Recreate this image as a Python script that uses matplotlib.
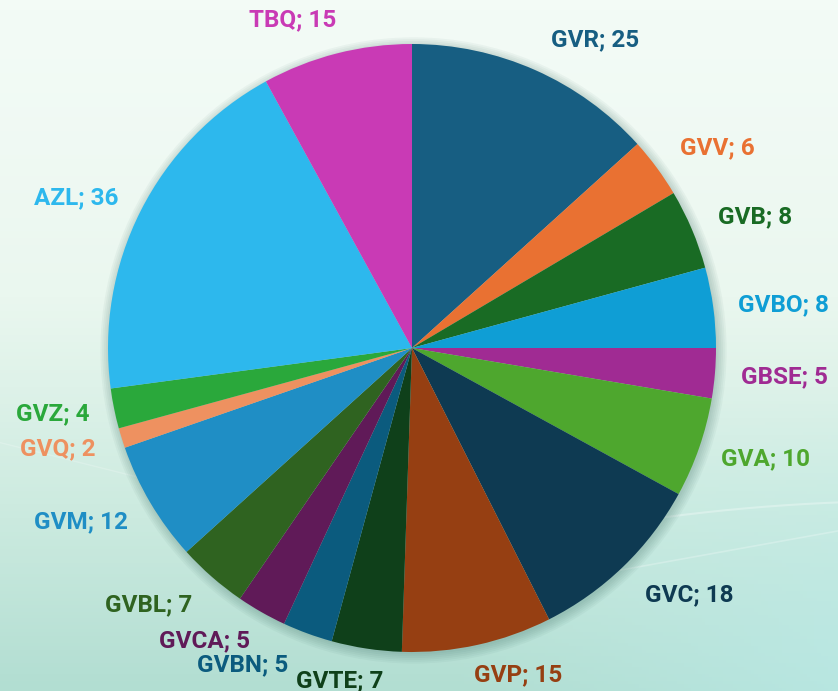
import numpy as np
import matplotlib
matplotlib.use('Agg')
import matplotlib.pyplot as plt
from matplotlib.colors import LinearSegmentedColormap
from matplotlib.patches import Circle

# Dados
labels = ['GVR', 'GVV', 'GVB', 'GVBO', 'GBSE', 'GVA', 'GVC', 'GVP', 'GVTE',
          'GVBN', 'GVCA', 'GVBL', 'GVM', 'GVQ', 'GVZ', 'AZL', 'TBQ']
values = [25, 6, 8, 8, 5, 10, 18, 15, 7, 5, 5, 7, 12, 2, 4, 36, 15]
colors = ['#175e82', '#e97132', '#196b24', '#0f9ed5', '#a02b93', '#4ea72e',
          '#0e3a52', '#963f12', '#0f401a', '#0b5b7e', '#601a58', '#2f6320',
          '#1f8ec5', '#ee9160', '#2aa83b', '#2db8ed', '#c93ab5']

# ajuste fino da posicao dos rotulos (graus, raio relativo)
label_shift = [-6.7, -3.1, -2.0, -1.0, 0.4, 1.7, 4.3, 5.5, -3.6,
               -8.0, -5.6, -4.6, -2.9, -1.4, -1.1, 2.7, 5.6]
label_r = [1.18, 1.20, 1.21, 1.23, 1.23, 1.22, 1.22, 1.13, 1.12,
           1.18, 1.18, 1.21, 1.23, 1.21, 1.20, 1.21, 1.15]

plt.rcParams['font.family'] = ['Roboto', 'DejaVu Sans']

fig = plt.figure(figsize=(8.38, 6.91), dpi=100)
ax = fig.add_axes([0, 0, 1, 1])

# fundo em degrade
xlim = (-412 / 304, 426 / 304)
ylim = (-343 / 304, 348 / 304)
ny, nx = 200, 240
yy, xx = np.mgrid[0:1:ny * 1j, 0:1:nx * 1j]
cmap_v = LinearSegmentedColormap.from_list('bg', ['#f3fbf6', '#eaf7ef', '#cdebe0', '#b2ded2'])
rgb = cmap_v(yy ** 1.3)[..., :3]
tint = np.array([0.74, 0.93, 0.93])
w = np.clip((xx - 0.55) * 2.0, 0, 1) * np.clip((yy - 0.55) * 2.5, 0, 1)
rgb = rgb * (1 - w[..., None] * 0.6) + tint * w[..., None] * 0.6
ax.imshow(rgb, extent=[xlim[0], xlim[1], ylim[0], ylim[1]], origin='upper',
          aspect='auto', zorder=0)

# linhas decorativas suaves
t = np.linspace(0.3, 1.5, 200)
ax.plot(t, -0.62 + 0.12 * (t - 0.3) - 0.08 * (t - 0.9) ** 2, color='white', alpha=0.3, lw=1.5, zorder=1)
ax.plot(t, -0.80 + 0.18 * (t - 0.3), color='white', alpha=0.25, lw=1.2, zorder=1)
t2 = np.linspace(-1.4, -0.5, 100)
ax.plot(t2, -0.30 - 0.25 * (t2 + 1.4), color='white', alpha=0.2, lw=1.0, zorder=1)

# sombra do grafico
for k in range(6):
    ax.add_patch(Circle((0.005, -0.008), 1.0 + 0.006 * k, color='#3a6a60',
                        alpha=0.05, lw=0, zorder=2))

wedges, _ = ax.pie(values, colors=colors, startangle=90, counterclock=False,
                   radius=1.0, wedgeprops=dict(linewidth=0, zorder=3))
for wdg in wedges:
    wdg.set_zorder(3)

for wdg, lab, val, col, ds, r in zip(wedges, labels, values, colors, label_shift, label_r):
    ang = np.deg2rad((wdg.theta1 + wdg.theta2) / 2 + ds)
    ax.text(r * np.cos(ang), r * np.sin(ang), f'{lab}; {val}', color=col,
            fontsize=17.5, fontweight='bold', ha='center', va='center', zorder=4)

ax.set_xlim(*xlim)
ax.set_ylim(*ylim)
ax.set_aspect('auto')
ax.axis('off')

fig.savefig('out.png', dpi=100)
